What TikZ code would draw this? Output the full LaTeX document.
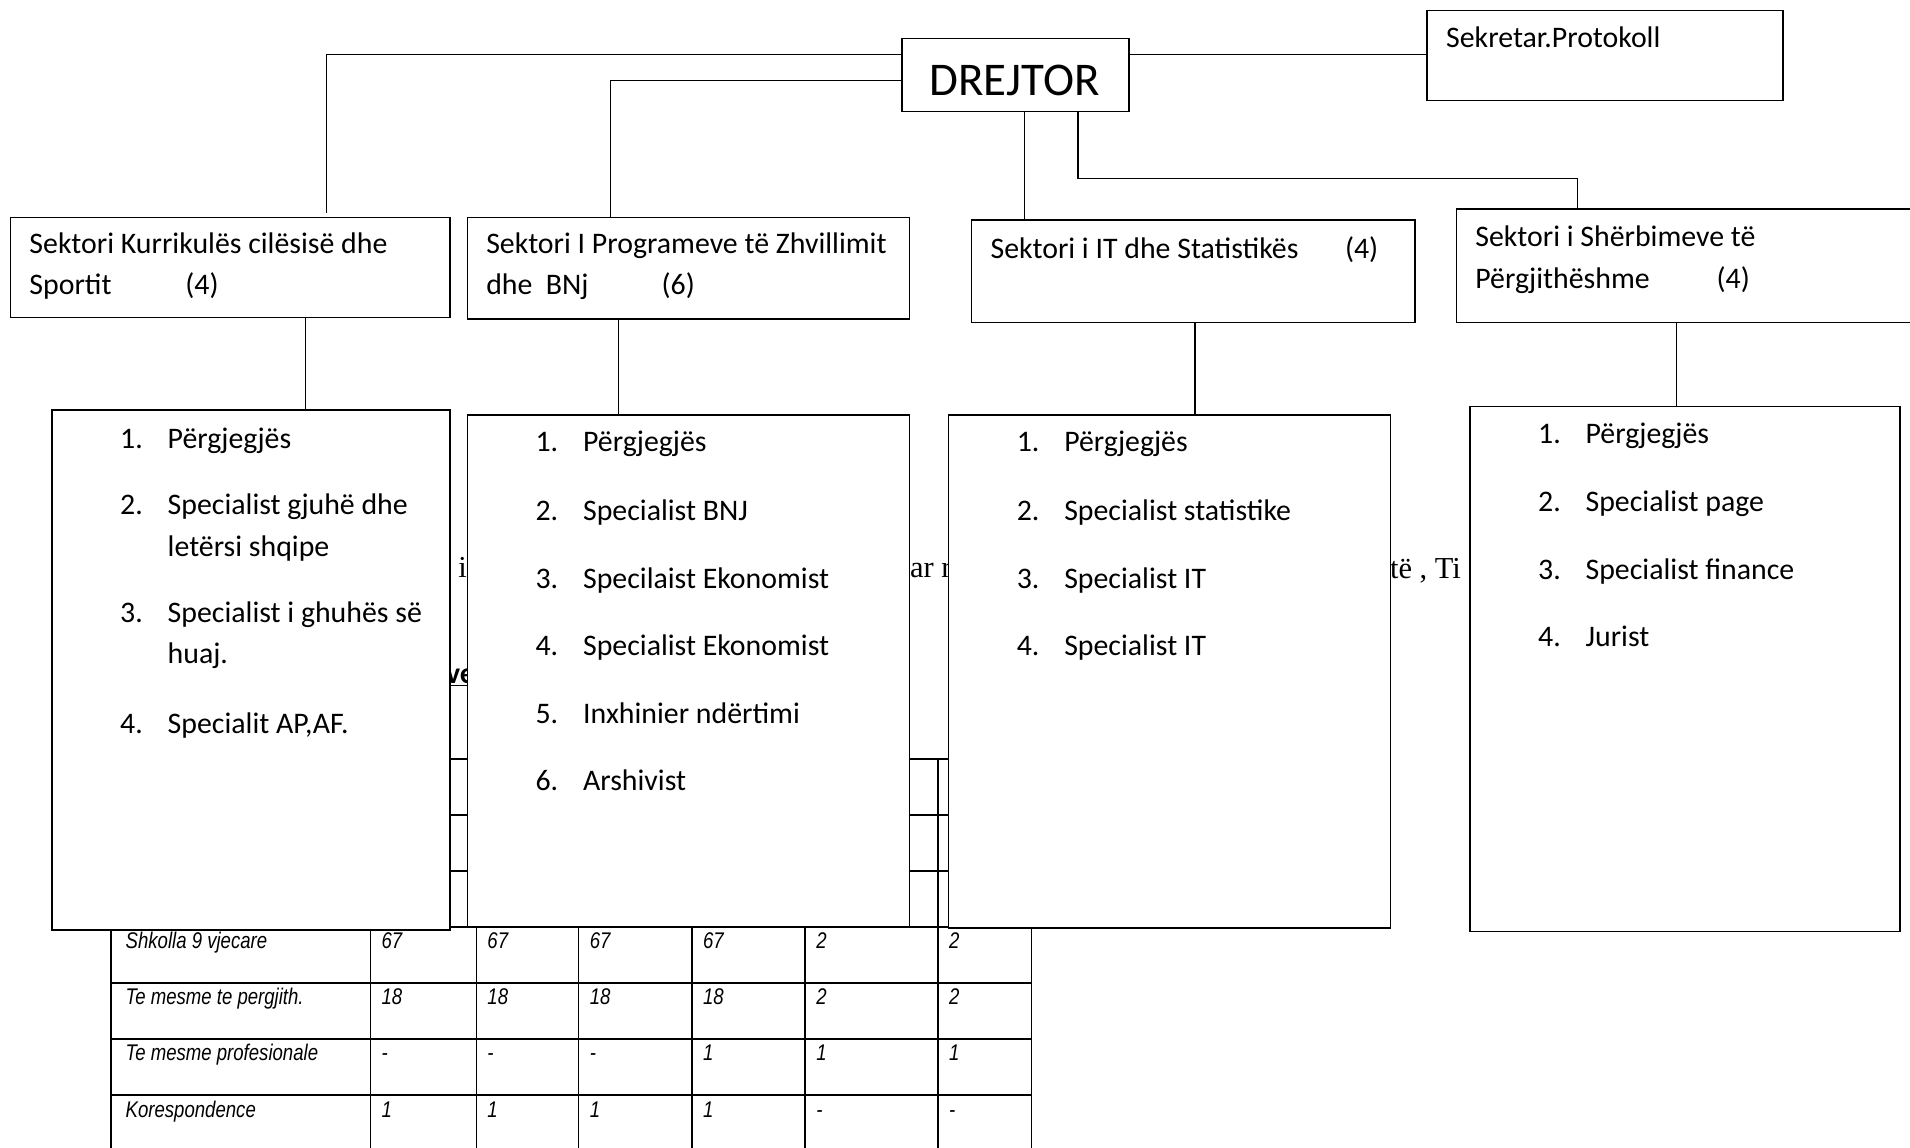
\documentclass[tikz,border=0pt]{standalone}
\usepackage{fontspec}
\setmainfont{Carlito}
\newfontfamily\cellfont[FakeStretch=0.82]{Liberation Sans}
\newfontfamily\parafont{Liberation Serif}
\usetikzlibrary{positioning, calc}

\tikzset{
  box/.style={draw, line width=1.3pt, fill=white, anchor=north west, inner sep=0pt},
  link/.style={line width=1pt},
  grid/.style={line width=1.2pt},
  txt/.style={anchor=base west, inner sep=0pt, font=\fontsize{24.5}{29}\selectfont},
  cell/.style={anchor=base west, inner sep=0pt, font=\cellfont\itshape\fontsize{18.6}{22}\selectfont},
  para/.style={anchor=base west, inner sep=0pt, font=\parafont\fontsize{25}{30}\selectfont},
}

\begin{document}
\begin{tikzpicture}[x=1pt, y=-1pt]
\useasboundingbox (0,0) rectangle (1568,942);

% table and text of the page behind the chart
\foreach \r in {623,669,...,945} \draw[grid] (91,\r) -- (847,\r);
\foreach \c in {91,304,391,475,568,661,770,847} \draw[grid] (\c,623) -- (\c,945);
\foreach \y/\name/\a/\b/\c/\d/\e/\f in {779/Shkolla 9 vjecare/67/67/67/67/2/2,
    825/Te mesme te pergjith./18/18/18/18/2/2,
    871/Te mesme profesionale/-/-/-/1/1/1,
    917/Korespondence/1/1/1/1/-/-}{
  \node[cell] (row\y) at (103,\y) {\name};
  \foreach \x/\v in {313/\a,400/\b,484/\c,577/\d,670/\e,779/\f}
    \node[cell] (cell\y-\x) at (\x,\y) {\v};
}
\node[para] (fragA) at (376,474) {i};
\node[para] (fragB) at (747,474) {ar r};
\node[para] (fragC) at (1141,475) {të , Ti};
\node[txt, font=\bfseries\fontsize{24.5}{29}\selectfont] (fragD) at (366,561) {\underline{ve}};

% top
\node[box, minimum width=186pt, minimum height=60pt] (drejtor) at (740,31) {};
\node[anchor=base, inner sep=0pt, font=\fontsize{38.5}{44}\selectfont] (drejtorlbl) at ($(drejtor.north west)+(93,47)$) {DREJTOR};
\node[box, minimum width=292pt, minimum height=74pt] (sekretar) at (1171,8) {};
\node[txt] (sekretarlbl) at ($(sekretar.north west)+(16,31)$) {Sekretar.Protokoll};

% sectors
\node[box, minimum width=361pt, minimum height=82pt] (sek1) at (8,178) {};
\node[txt] (sek1a) at ($(sek1.north west)+(16,30)$) {Sektori Kurrikulës cilësisë dhe};
\node[txt] (sek1b) at ($(sek1.north west)+(16,64)$) {\makebox[128pt][l]{Sportit}(4)};
\node[box, minimum width=363pt, minimum height=83pt] (sek2) at (383,178) {};
\node[txt] (sek2a) at ($(sek2.north west)+(16,30)$) {Sektori I Programeve të Zhvillimit};
\node[txt] (sek2b) at ($(sek2.north west)+(16,64)$) {\makebox[144pt][l]{dhe\ \ BNj}(6)};
\node[box, minimum width=364pt, minimum height=84pt] (sek3) at (797,180) {};
\node[txt] (sek3a) at ($(sek3.north west)+(16,32)$) {\makebox[291pt][l]{Sektori i IT dhe Statistikës}(4)};
\node[box, minimum width=385pt, minimum height=93pt] (sek4) at (1195,171) {};
\node[txt] (sek4a) at ($(sek4.north west)+(16,31)$) {Sektori i Shërbimeve të};
\node[txt] (sek4b) at ($(sek4.north west)+(16,66)$) {\makebox[198pt][l]{Përgjithëshme}(4)};

% staff lists
\node[box, minimum width=327pt, minimum height=427pt] (list1) at (42,336) {};
\foreach \dy/\n/\t in {32/1./Përgjegjës, 86/2./Specialist gjuhë dhe, 121//letërsi shqipe,
    175/3./Specialist i ghuhës së, 209//huaj., 266/4./{Specialit AP,AF.}}
  \node[txt] (list1-\dy) at ($(list1.north west)+(56.5,\dy)$) {\makebox[39pt][l]{\n}\t};
\node[box, minimum width=363pt, minimum height=420pt] (list2) at (383,340) {};
\foreach \dy/\n/\t in {31/1./Përgjegjës, 87/2./Specialist BNJ, 143/3./Specilaist Ekonomist,
    198/4./Specialist Ekonomist, 254/5./Inxhinier ndërtimi, 309/6./Arshivist}
  \node[txt] (list2-\dy) at ($(list2.north west)+(56.5,\dy)$) {\makebox[39pt][l]{\n}\t};
\node[box, minimum width=363pt, minimum height=421pt] (list3) at (778,340) {};
\foreach \dy/\n/\t in {31/1./Përgjegjës, 87/2./Specialist statistike, 143/3./Specialist IT,
    198/4./Specialist IT}
  \node[txt] (list3-\dy) at ($(list3.north west)+(56.5,\dy)$) {\makebox[39pt][l]{\n}\t};
\node[box, minimum width=353pt, minimum height=431pt] (list4) at (1206,333) {};
\foreach \dy/\n/\t in {31/1./Përgjegjës, 87/2./Specialist page, 142.5/3./Specialist finance,
    198/4./Jurist}
  \node[txt] (list4-\dy) at ($(list4.north west)+(56.5,\dy)$) {\makebox[39pt][l]{\n}\t};

% connectors
\draw[link] ($(drejtor.north west)+(0,14)$) -| ($(sek1.north west)+(260,-3)$);
\draw[link] ($(drejtor.north west)+(0,35)$) -| ($(sek2.north west)+(118,0)$);
\draw[link] ($(drejtor.north east)+(0,14)$) -- ($(sekretar.north west)+(0,37)$);
\draw[link] ($(drejtor.south west)+(101,0)$) -- ($(sek3.north west)+(44,0)$);
\draw[link] ($(drejtor.south west)+(145,0)$) -- ++(0,54) -| ($(sek4.north west)+(100,0)$);
\draw[link] ($(sek1.south west)+(243,0)$) -- ($(list1.north west)+(209,0)$);
\draw[link] ($(sek2.south west)+(125,0)$) -- ($(list2.north west)+(125,0)$);
\draw[link] ($(sek3.south west)+(184,0)$) -- ($(list3.north west)+(203,0)$);
\draw[link] ($(sek4.south west)+(181,0)$) -- ($(list4.north west)+(170,0)$);
\end{tikzpicture}
\end{document}
